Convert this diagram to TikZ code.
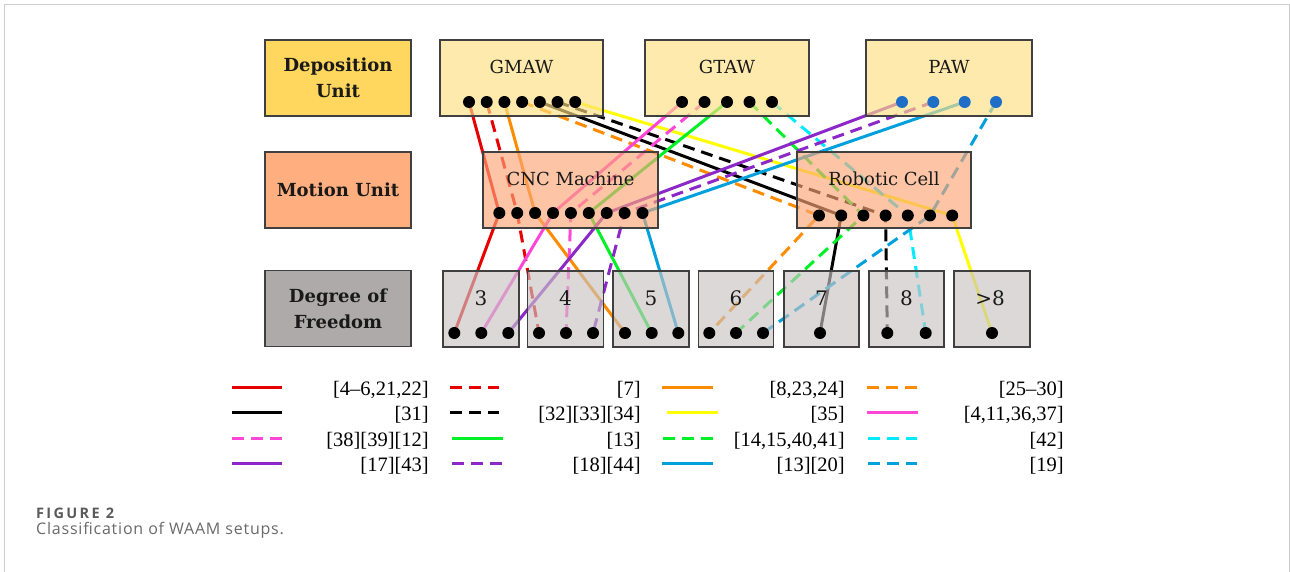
\documentclass[tikz,border=0pt]{standalone}
\usepackage{fontspec}
\newfontfamily\legfont{Liberation Serif}
\newfontfamily\capfont{Open Sans}
\newfontfamily\boxfont{DejaVu Serif}
\usetikzlibrary{calc}
\pgfdeclarelayer{bg}
\pgfsetlayers{bg,main}
\definecolor{framec}{RGB}{205,205,205}
\definecolor{boxline}{RGB}{64,64,64}
\definecolor{depL}{RGB}{255,215,94}
\definecolor{depR}{RGB}{255,223,131}
\definecolor{motL}{RGB}{255,175,127}
\definecolor{motR}{RGB}{252,166,119}
\definecolor{dofL}{RGB}{174,170,170}
\definecolor{dofR}{RGB}{201,195,195}
\definecolor{cRed}{RGB}{230,0,0}
\definecolor{cOrange}{RGB}{255,140,0}
\definecolor{cYellow}{RGB}{255,255,0}
\definecolor{cPink}{RGB}{255,70,215}
\definecolor{cGreen}{RGB}{0,240,40}
\definecolor{cCyan}{RGB}{0,235,255}
\definecolor{cPurple}{RGB}{140,40,200}
\definecolor{cBlue}{RGB}{0,160,220}
\definecolor{cDotBlue}{RGB}{30,110,200}
\definecolor{capA}{RGB}{90,90,90}
\definecolor{capB}{RGB}{105,105,105}
\definecolor{txt}{RGB}{25,25,25}
\begin{document}
\begin{tikzpicture}[x=1pt,y=-1pt,
  lbox/.style={draw=boxline, line width=1.2pt, inner sep=0pt, minimum width=146pt, minimum height=76pt,
    align=center, text=txt, font=\boxfont\bfseries\fontsize{18}{26.3}\selectfont},
  rbox/.style={draw=boxline, line width=1.2pt, inner sep=0pt, minimum height=76pt, fill opacity=0.65, text opacity=1},
  blabel/.style={anchor=base, inner sep=0pt, text=txt, font=\boxfont\fontsize{18}{22}\selectfont},
  nlabel/.style={anchor=base, inner sep=0pt, text=txt, font=\boxfont\fontsize{20}{24}\selectfont},
  dot/.style={circle, fill=black, inner sep=0pt, minimum size=12pt},
  bdot/.style={dot, fill=cDotBlue},
  ln/.style={line width=3pt},
  dsh/.style={line width=3pt, dash pattern=on 12pt off 7pt},
  legtxt/.style={anchor=east, inner sep=0pt, font=\legfont\fontsize{20.5}{24}\selectfont}
]
\useasboundingbox (0,0) rectangle (1290,572);
\draw[framec, line width=1pt] (4,572) -- (4,5) -- (1289,5) -- (1289,572);

% left category boxes
\node[lbox, fill=depL] (depu) at (338,78) {Deposition\\Unit};
\node[lbox, fill=motL] (motu) at (338,190) {Motion Unit};
\node[lbox, fill=dofL] (dofu) at (338,308.5) {Degree of\\Freedom};

% deposition boxes
\node[rbox, fill=depR, minimum width=163pt] (gmaw) at (521.5,78) {};
\node[rbox, fill=depR, minimum width=164pt] (gtaw) at (727,78) {};
\node[rbox, fill=depR, minimum width=166pt] (paw) at (949,78) {};
\node[blabel] at (521.5,73.3) {GMAW};
\node[blabel] at (727,73.3) {GTAW};
\node[blabel] at (949,73.5) {PAW};

% motion boxes
\node[rbox, fill=motR, minimum width=175pt] (cnc) at (570.5,190) {};
\node[rbox, fill=motR, minimum width=174pt] (rob) at (884,190) {};
\node[blabel] at (570.5,186) {CNC Machine};
\node[blabel] at (884,186) {Robotic Cell};

% DOF boxes
\node[rbox, fill=dofR, minimum width=76pt] (d3) at (481,309) {};
\node[rbox, fill=dofR, minimum width=76pt] (d4) at (565.5,309) {};
\node[rbox, fill=dofR, minimum width=76pt] (d5) at (651,309) {};
\node[rbox, fill=dofR, minimum width=75pt] (d6) at (736,309) {};
\node[rbox, fill=dofR, minimum width=75pt] (d7) at (821.5,309) {};
\node[rbox, fill=dofR, minimum width=75pt] (d8) at (906.5,309) {};
\node[rbox, fill=dofR, minimum width=76pt] (d9) at (992,309) {};
\node[nlabel] at (481,305) {3};
\node[nlabel] at (565.5,305) {4};
\node[nlabel] at (651,305) {5};
\node[nlabel] at (736,305) {6};
\node[nlabel] at (821.5,305) {7};
\node[nlabel] at (906.5,305) {8};
\node[nlabel] at (990,305) {>8};

% dots
\foreach \i/\x in {1/469,2/486.7,3/504.4,4/522.1,5/539.8,6/557.5,7/575.2}
  \node[dot] (g\i) at (\x,102) {};
\foreach \i/\x in {1/682,2/704.5,3/727,4/749.5,5/772}
  \node[dot] (t\i) at (\x,102) {};
\foreach \i/\x in {1/902,2/933.3,3/964.7,4/996}
  \node[bdot] (p\i) at (\x,102) {};
\foreach \i/\x in {1/499.3,2/517.2,3/535.1,4/553,5/570.9,6/588.8,7/606.7,8/624.6,9/642.5}
  \node[dot] (c\i) at (\x,213) {};
\foreach \i/\x in {1/819,2/841.2,3/863.4,4/885.6,5/907.8,6/930,7/952.2}
  \node[dot] (r\i) at (\x,215.5) {};
\foreach \n/\x in {a/454.3,b/481.3,c/508.3}
  \node[dot] (e3\n) at (\x,333) {};
\foreach \n/\x in {a/539,b/566,c/593}
  \node[dot] (e4\n) at (\x,333) {};
\foreach \n/\x in {a/625,b/651.7,c/678.3}
  \node[dot] (e5\n) at (\x,333) {};
\foreach \n/\x in {a/709.3,b/736,c/763}
  \node[dot] (e6\n) at (\x,333) {};
\node[dot] (e7a) at (820,333) {};
\node[dot] (e8a) at (887.3,333) {};
\node[dot] (e8b) at (925.7,333) {};
\node[dot] (e9a) at (992,333) {};

% connectors
\begin{pgfonlayer}{bg}
\draw[ln, cRed] (g1.center) -- (c1.center) -- (e3a.center);
\draw[dsh, cRed] (g2.center) -- (c2.center) -- (e4a.center);
\draw[ln, cOrange] (g3.center) -- (c3.center) -- (e5a.center);
\draw[dsh, cOrange] (g4.center) -- (r1.center) -- (e6a.center);
\draw[ln, black] (g5.center) -- (r2.center) -- (e7a.center);
\draw[dsh, black] (g6.center) -- (r4.center) -- (e8a.center);
\draw[ln, cYellow] (g7.center) -- (r7.center) -- (e9a.center);
\draw[ln, cPink] (t1.center) -- (c4.center) -- (e3b.center);
\draw[dsh, cPink] (t2.center) -- (c5.center) -- (e4b.center);
\draw[ln, cGreen] (t3.center) -- (c6.center) -- (e5b.center);
\draw[dsh, cGreen] (t4.center) -- (r3.center) -- (e6b.center);
\draw[dsh, cCyan] (t5.center) -- (r5.center) -- (e8b.center);
\draw[ln, cPurple] (p1.center) -- (c7.center) -- (e3c.center);
\draw[dsh, cPurple] (p2.center) -- (c8.center) -- (e4c.center);
\draw[ln, cBlue] (p3.center) -- (c9.center) -- (e5c.center);
\draw[dsh, cBlue] (p4.center) -- (r6.center) -- (e6c.center);
\end{pgfonlayer}

% legend
\draw[ln, cRed] (232,387) -- (282,387);
\draw[ln, black] (232,412) -- (282,412);
\draw[dsh, cPink] (232,438) -- (282,438);
\draw[ln, cPurple] (232,463) -- (282,463);
\node[legtxt] at (429,390) {[4–6,21,22]};
\node[legtxt] at (429,415) {[31]};
\node[legtxt] at (429,441) {[38][39][12]};
\node[legtxt] at (429,466) {[17][43]};

\draw[dsh, cRed] (450,387) -- (499,387);
\draw[dsh, black] (450,412) -- (499,412);
\draw[ln, cGreen] (452,438) -- (503,438);
\draw[dsh, cPurple] (452,463) -- (502,463);
\node[legtxt] at (641,390) {[7]};
\node[legtxt] at (641,415) {[32][33][34]};
\node[legtxt] at (641,441) {[13]};
\node[legtxt] at (641,466) {[18][44]};

\draw[ln, cOrange] (662,387) -- (713,387);
\draw[ln, cYellow] (667,412) -- (718,412);
\draw[dsh, cGreen] (663,438) -- (713,438);
\draw[ln, cBlue] (662,463) -- (713,463);
\node[legtxt] at (845,390) {[8,23,24]};
\node[legtxt] at (845,415) {[35]};
\node[legtxt] at (845,441) {[14,15,40,41]};
\node[legtxt] at (845,466) {[13][20]};

\draw[dsh, cOrange] (867,387) -- (917,387);
\draw[ln, cPink] (867,412) -- (918,412);
\draw[dsh, cCyan] (868,438) -- (917,438);
\draw[dsh, cBlue] (868,463) -- (917,463);
\node[legtxt] at (1064,390) {[25–30]};
\node[legtxt] at (1064,415) {[4,11,36,37]};
\node[legtxt] at (1064,441) {[42]};
\node[legtxt] at (1064,466) {[19]};

% caption
\node[anchor=base west, inner sep=0pt, text=capA,
  font=\capfont\bfseries\addfontfeature{LetterSpace=16}\fontsize{14.5}{16}\selectfont] (cap1) at (36,518.3) {FIGURE 2};
\node[anchor=base west, inner sep=0pt, text=capB,
  font=\capfont\addfontfeature{LetterSpace=5}\fontsize{16}{18}\selectfont] (cap2) at (36,534.3) {Classification of WAAM setups.};
\end{tikzpicture}
\end{document}
